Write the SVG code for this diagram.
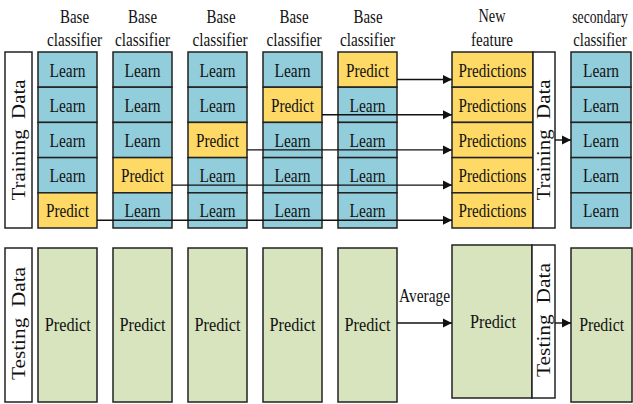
<svg xmlns="http://www.w3.org/2000/svg" width="633" height="404" viewBox="0 0 633 404">
<style>
text{font-family:'Liberation Serif','DejaVu Serif',serif;font-size:19px;fill:#111;text-anchor:middle}
.v{white-space:pre}
.learn{fill:#92CDDC;stroke:#222;stroke-width:1.5}
.pred{fill:#FFD966;stroke:#222;stroke-width:1.5}
.test{fill:#D7E4BD;stroke:#222;stroke-width:1.5}
.lab{fill:#fff;stroke:#222;stroke-width:1.5}
.conn{stroke:#111;stroke-width:1.4;fill:none}
</style>
<defs>
<marker id="ah" viewBox="0 0 10 10" refX="10" refY="5" markerWidth="9" markerHeight="10" markerUnits="userSpaceOnUse" orient="auto">
<path d="M0,0 L10,5 L0,10 z" fill="#111"/>
</marker>
</defs>
<rect width="633" height="404" fill="#fff"/>
<g font-family="'Liberation Serif','DejaVu Serif',serif">
<g id="headers">
<text x="74.5" y="23" textLength="29" lengthAdjust="spacingAndGlyphs">Base</text>
<text x="74.5" y="46" textLength="55" lengthAdjust="spacingAndGlyphs">classifier</text>
<text x="142.5" y="23" textLength="29" lengthAdjust="spacingAndGlyphs">Base</text>
<text x="142.5" y="46" textLength="55" lengthAdjust="spacingAndGlyphs">classifier</text>
<text x="221" y="23" textLength="29" lengthAdjust="spacingAndGlyphs">Base</text>
<text x="220" y="46" textLength="55" lengthAdjust="spacingAndGlyphs">classifier</text>
<text x="294" y="23" textLength="29" lengthAdjust="spacingAndGlyphs">Base</text>
<text x="294" y="46" textLength="55" lengthAdjust="spacingAndGlyphs">classifier</text>
<text x="368" y="23" textLength="29" lengthAdjust="spacingAndGlyphs">Base</text>
<text x="367.5" y="46" textLength="55" lengthAdjust="spacingAndGlyphs">classifier</text>
<text x="492" y="22" textLength="27" lengthAdjust="spacingAndGlyphs">New</text>
<text x="492" y="46" textLength="42" lengthAdjust="spacingAndGlyphs">feature</text>
<text transform="translate(600,23) scale(0.72,1)">secondary</text>
<text transform="translate(600,46) scale(0.78,1)">classifier</text>
</g>

<g id="train-label-left">
<rect class="lab" x="5" y="52" width="27" height="176"/>
<text class="v" transform="translate(25,140) rotate(-90)" textLength="121" lengthAdjust="spacingAndGlyphs">Training  Data</text>
</g>

<g id="col1">
<g id="c1r1"><rect class="learn" x="38" y="52" width="59" height="35.2"/><text x="67.5" y="76.5" textLength="36" lengthAdjust="spacingAndGlyphs">Learn</text></g>
<g id="c1r2"><rect class="learn" x="38" y="87.2" width="59" height="35.2"/><text x="67.5" y="111.7" textLength="36" lengthAdjust="spacingAndGlyphs">Learn</text></g>
<g id="c1r3"><rect class="learn" x="38" y="122.4" width="59" height="35.2"/><text x="67.5" y="146.9" textLength="36" lengthAdjust="spacingAndGlyphs">Learn</text></g>
<g id="c1r4"><rect class="learn" x="38" y="157.6" width="59" height="35.2"/><text x="67.5" y="182.1" textLength="36" lengthAdjust="spacingAndGlyphs">Learn</text></g>
<g id="c1r5"><rect class="pred" x="38" y="192.8" width="59" height="35.2"/><text x="67.5" y="217.3" textLength="43" lengthAdjust="spacingAndGlyphs">Predict</text></g>
</g>
<g id="col2">
<g id="c2r1"><rect class="learn" x="113" y="52" width="59" height="35.2"/><text x="142.5" y="76.5" textLength="36" lengthAdjust="spacingAndGlyphs">Learn</text></g>
<g id="c2r2"><rect class="learn" x="113" y="87.2" width="59" height="35.2"/><text x="142.5" y="111.7" textLength="36" lengthAdjust="spacingAndGlyphs">Learn</text></g>
<g id="c2r3"><rect class="learn" x="113" y="122.4" width="59" height="35.2"/><text x="142.5" y="146.9" textLength="36" lengthAdjust="spacingAndGlyphs">Learn</text></g>
<g id="c2r4"><rect class="pred" x="113" y="157.6" width="59" height="35.2"/><text x="142.5" y="182.1" textLength="43" lengthAdjust="spacingAndGlyphs">Predict</text></g>
<g id="c2r5"><rect class="learn" x="113" y="192.8" width="59" height="35.2"/><text x="142.5" y="217.3" textLength="36" lengthAdjust="spacingAndGlyphs">Learn</text></g>
</g>
<g id="col3">
<g id="c3r1"><rect class="learn" x="188" y="52" width="59" height="35.2"/><text x="217.5" y="76.5" textLength="36" lengthAdjust="spacingAndGlyphs">Learn</text></g>
<g id="c3r2"><rect class="learn" x="188" y="87.2" width="59" height="35.2"/><text x="217.5" y="111.7" textLength="36" lengthAdjust="spacingAndGlyphs">Learn</text></g>
<g id="c3r3"><rect class="pred" x="188" y="122.4" width="59" height="35.2"/><text x="217.5" y="146.9" textLength="43" lengthAdjust="spacingAndGlyphs">Predict</text></g>
<g id="c3r4"><rect class="learn" x="188" y="157.6" width="59" height="35.2"/><text x="217.5" y="182.1" textLength="36" lengthAdjust="spacingAndGlyphs">Learn</text></g>
<g id="c3r5"><rect class="learn" x="188" y="192.8" width="59" height="35.2"/><text x="217.5" y="217.3" textLength="36" lengthAdjust="spacingAndGlyphs">Learn</text></g>
</g>
<g id="col4">
<g id="c4r1"><rect class="learn" x="263" y="52" width="59" height="35.2"/><text x="292.5" y="76.5" textLength="36" lengthAdjust="spacingAndGlyphs">Learn</text></g>
<g id="c4r2"><rect class="pred" x="263" y="87.2" width="59" height="35.2"/><text x="292.5" y="111.7" textLength="43" lengthAdjust="spacingAndGlyphs">Predict</text></g>
<g id="c4r3"><rect class="learn" x="263" y="122.4" width="59" height="35.2"/><text x="292.5" y="146.9" textLength="36" lengthAdjust="spacingAndGlyphs">Learn</text></g>
<g id="c4r4"><rect class="learn" x="263" y="157.6" width="59" height="35.2"/><text x="292.5" y="182.1" textLength="36" lengthAdjust="spacingAndGlyphs">Learn</text></g>
<g id="c4r5"><rect class="learn" x="263" y="192.8" width="59" height="35.2"/><text x="292.5" y="217.3" textLength="36" lengthAdjust="spacingAndGlyphs">Learn</text></g>
</g>
<g id="col5">
<g id="c5r1"><rect class="pred" x="338" y="52" width="59" height="35.2"/><text x="367.5" y="76.5" textLength="43" lengthAdjust="spacingAndGlyphs">Predict</text></g>
<g id="c5r2"><rect class="learn" x="338" y="87.2" width="59" height="35.2"/><text x="367.5" y="111.7" textLength="36" lengthAdjust="spacingAndGlyphs">Learn</text></g>
<g id="c5r3"><rect class="learn" x="338" y="122.4" width="59" height="35.2"/><text x="367.5" y="146.9" textLength="36" lengthAdjust="spacingAndGlyphs">Learn</text></g>
<g id="c5r4"><rect class="learn" x="338" y="157.6" width="59" height="35.2"/><text x="367.5" y="182.1" textLength="36" lengthAdjust="spacingAndGlyphs">Learn</text></g>
<g id="c5r5"><rect class="learn" x="338" y="192.8" width="59" height="35.2"/><text x="367.5" y="217.3" textLength="36" lengthAdjust="spacingAndGlyphs">Learn</text></g>
</g>
<g id="newfeature">
<g id="nf1"><rect class="pred" x="452" y="52" width="81" height="35.2"/><text x="492.5" y="76.5" textLength="68" lengthAdjust="spacingAndGlyphs">Predictions</text></g>
<g id="nf2"><rect class="pred" x="452" y="87.2" width="81" height="35.2"/><text x="492.5" y="111.7" textLength="68" lengthAdjust="spacingAndGlyphs">Predictions</text></g>
<g id="nf3"><rect class="pred" x="452" y="122.4" width="81" height="35.2"/><text x="492.5" y="146.9" textLength="68" lengthAdjust="spacingAndGlyphs">Predictions</text></g>
<g id="nf4"><rect class="pred" x="452" y="157.6" width="81" height="35.2"/><text x="492.5" y="182.1" textLength="68" lengthAdjust="spacingAndGlyphs">Predictions</text></g>
<g id="nf5"><rect class="pred" x="452" y="192.8" width="81" height="35.2"/><text x="492.5" y="217.3" textLength="68" lengthAdjust="spacingAndGlyphs">Predictions</text></g>
</g>
<g id="train-label-right">
<rect class="lab" x="533" y="52" width="22" height="176"/>
<text class="v" transform="translate(550,140) rotate(-90)" textLength="121" lengthAdjust="spacingAndGlyphs">Training  Data</text>
</g>
<g id="secondary">
<g id="s1"><rect class="learn" x="571" y="52" width="60" height="35.2"/><text x="601" y="76.5" textLength="36" lengthAdjust="spacingAndGlyphs">Learn</text></g>
<g id="s2"><rect class="learn" x="571" y="87.2" width="60" height="35.2"/><text x="601" y="111.7" textLength="36" lengthAdjust="spacingAndGlyphs">Learn</text></g>
<g id="s3"><rect class="learn" x="571" y="122.4" width="60" height="35.2"/><text x="601" y="146.9" textLength="36" lengthAdjust="spacingAndGlyphs">Learn</text></g>
<g id="s4"><rect class="learn" x="571" y="157.6" width="60" height="35.2"/><text x="601" y="182.1" textLength="36" lengthAdjust="spacingAndGlyphs">Learn</text></g>
<g id="s5"><rect class="learn" x="571" y="192.8" width="60" height="35.2"/><text x="601" y="217.3" textLength="36" lengthAdjust="spacingAndGlyphs">Learn</text></g>
</g>

<g id="test-label-left">
<rect class="lab" x="5" y="248" width="27" height="154"/>
<text class="v" transform="translate(25,323.5) rotate(-90)" textLength="113" lengthAdjust="spacingAndGlyphs">Testing  Data</text>
</g>
<g id="t1"><rect class="test" x="38" y="248" width="59" height="154"/><text x="67.8" y="331" textLength="46" lengthAdjust="spacingAndGlyphs">Predict</text></g>
<g id="t2"><rect class="test" x="113" y="248" width="59" height="154"/><text x="142.5" y="331" textLength="46" lengthAdjust="spacingAndGlyphs">Predict</text></g>
<g id="t3"><rect class="test" x="188" y="248" width="59" height="154"/><text x="217.5" y="331" textLength="46" lengthAdjust="spacingAndGlyphs">Predict</text></g>
<g id="t4"><rect class="test" x="263" y="248" width="59" height="154"/><text x="292.5" y="331" textLength="46" lengthAdjust="spacingAndGlyphs">Predict</text></g>
<g id="t5"><rect class="test" x="338" y="248" width="59" height="154"/><text x="367.5" y="331" textLength="46" lengthAdjust="spacingAndGlyphs">Predict</text></g>
<g id="tnf"><rect class="test" x="452" y="245" width="80" height="153"/><text x="493" y="328" textLength="46" lengthAdjust="spacingAndGlyphs">Predict</text></g>
<g id="test-label-right">
<rect class="lab" x="532" y="245" width="23" height="153"/>
<text class="v" transform="translate(550,320) rotate(-90)" textLength="114" lengthAdjust="spacingAndGlyphs">Testing  Data</text>
</g>
<g id="tsec"><rect class="test" x="571" y="248" width="61" height="154"/><text x="601.7" y="331" textLength="45" lengthAdjust="spacingAndGlyphs">Predict</text></g>

<g id="connectors">
<line class="conn" x1="397" y1="79.5" x2="452" y2="79.5" marker-end="url(#ah)"/>
<line class="conn" x1="322" y1="114.7" x2="452" y2="114.7" marker-end="url(#ah)"/>
<line class="conn" x1="247" y1="149.9" x2="452" y2="149.9" marker-end="url(#ah)"/>
<line class="conn" x1="172" y1="185.1" x2="452" y2="185.1" marker-end="url(#ah)"/>
<line class="conn" x1="97" y1="220.3" x2="452" y2="220.3" marker-end="url(#ah)"/>
<line class="conn" x1="555" y1="140" x2="571" y2="140" marker-end="url(#ah)"/>
<line class="conn" x1="397" y1="323" x2="452" y2="323" marker-end="url(#ah)"/>
<text x="424.5" y="302" textLength="51" lengthAdjust="spacingAndGlyphs">Average</text>
<line class="conn" x1="555" y1="323" x2="571" y2="323" marker-end="url(#ah)"/>
</g>
</g>
</svg>
